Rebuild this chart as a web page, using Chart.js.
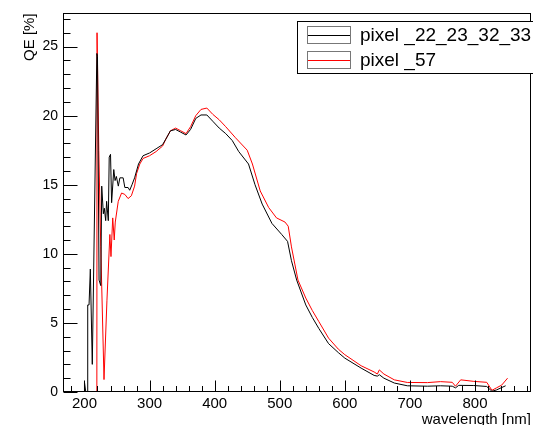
<!DOCTYPE html>
<html>
<head>
<meta charset="utf-8">
<script src="https://cdn.jsdelivr.net/npm/chart.js@4.4.1/dist/chart.umd.min.js"></script>
<style>
  html, body { margin: 0; padding: 0; background: #fff; }
  #wrap { width: 533px; height: 425px; }
</style>
</head>
<body>
<div id="wrap"><canvas id="myChart" width="533" height="425"></canvas></div>
<script>
'use strict';

// pixel _22_23_32_33 (black)
const blackNm = [199.5, 200, 202, 204.5, 205, 207, 209, 212, 219, 220, 222.4, 225, 226.5, 229, 230.5, 232.6, 234, 236.6, 238, 240, 241.7, 245, 247, 249, 252, 254.4, 259.4, 262, 267, 269.5, 273, 277, 283, 290, 300, 310, 320, 325, 332, 340, 348, 356, 363, 371, 379, 388, 397, 407, 417, 427, 437, 452, 462, 473, 488, 503, 512, 518, 526, 540, 550, 560, 575, 590, 600, 625, 645, 650, 653, 660, 676, 696, 727, 747, 765, 770, 775, 798, 818, 826, 833, 840, 847];
const blackQE = [0, 0.7, 0, 0, 6.3, 6.3, 8.9, 2.0, 24.5, 24.3, 8.1, 7.7, 14.9, 12.9, 13.3, 12.4, 13.8, 12.4, 17.0, 17.2, 13.7, 16.1, 15.3, 15.6, 14.9, 15.5, 15.5, 14.8, 14.8, 14.6, 15.0, 15.5, 16.5, 17.1, 17.3, 17.6, 17.9, 18.3, 18.9, 19.0, 18.8, 18.6, 19.0, 19.8, 20.05, 20.05, 19.6, 19.1, 18.7, 18.2, 17.4, 16.5, 15.0, 13.6, 12.2, 11.4, 10.9, 9.5, 8.1, 6.3, 5.4, 4.6, 3.5, 2.85, 2.45, 1.73, 1.2, 1.15, 1.25, 1.0, 0.65, 0.45, 0.42, 0.45, 0.42, 0.3, 0.48, 0.47, 0.4, 0.05, 0.15, 0.3, 0.45];

// pixel _57 (red)
const redNm = [200, 219, 219.3, 222, 225, 230, 234.5, 239, 240.7, 243.4, 245.7, 247.3, 251.9, 257, 262, 267, 272, 277, 280, 285, 290, 300, 310, 320, 325, 332, 340, 348, 356, 363, 371, 379, 388, 397, 407, 417, 432, 450, 458, 470, 483, 495, 508, 513, 518, 528, 540, 550, 560, 575, 590, 600, 625, 645, 650, 653, 660, 676, 696, 727, 747, 765, 770, 778, 798, 818, 826, 833, 841, 850];
const redQE = [0, 0, 26.0, 17.5, 10.5, 0.9, 6.6, 11.4, 9.8, 12.6, 11.0, 12.3, 13.8, 14.4, 14.3, 14.0, 14.2, 14.9, 15.8, 16.5, 16.9, 17.1, 17.4, 17.8, 18.3, 18.9, 19.1, 18.9, 18.7, 19.2, 20.0, 20.45, 20.55, 20.1, 19.7, 19.2, 18.4, 17.5, 16.5, 14.55, 13.35, 12.6, 12.3, 12.0, 10.5, 8.1, 6.8, 5.9, 5.1, 3.9, 3.1, 2.7, 1.9, 1.45, 1.3, 1.6, 1.3, 0.88, 0.69, 0.68, 0.75, 0.7, 0.42, 0.88, 0.77, 0.7, 0.12, 0.3, 0.5, 1.0];

const seriesLabels = ['pixel _22_23_32_33', 'pixel _57'];
const seriesColors = ['#000000', '#ff0000'];

const xTicks = [200, 300, 400, 500, 600, 700, 800];
const yTicks = [0, 5, 10, 15, 20, 25];

const toPoints = (xs, ys) => xs.map((x, i) => ({ x: x, y: ys[i] }));

// ROOT-like frame with ticks pointing inwards
const framePlugin = {
    id: 'frame',
    afterDatasetsDraw(chart) {
        const ctx = chart.ctx;
        const a = chart.chartArea;
        const xs = chart.scales.x;
        const ys = chart.scales.y;
        const L = Math.round(a.left) + 0.5, R = Math.round(a.right) - 0.5;
        const T = Math.round(a.top) + 0.5, B = Math.round(a.bottom) - 0.5;
        ctx.save();
        ctx.strokeStyle = '#000';
        ctx.lineWidth = 1;
        ctx.beginPath();
        for (let v = 180; v <= 880; v += 20) {
            const px = Math.round(xs.getPixelForValue(v)) + 0.5;
            const len = v % 100 === 0 ? 11 : 5.5;
            ctx.moveTo(px, B);
            ctx.lineTo(px, B - len);
        }
        for (let v = 0; v <= 27; v += 1) {
            const py = Math.round(ys.getPixelForValue(v)) + 0.5;
            const len = v % 5 === 0 ? 14 : 7;
            ctx.moveTo(L, py);
            ctx.lineTo(L + len, py);
        }
        ctx.stroke();
        ctx.strokeRect(L, T, R - L, B - T);
        ctx.restore();
    }
};

const legendPlugin = {
    id: 'rootLegend',
    afterDraw(chart) {
        const ctx = chart.ctx;
        ctx.save();
        ctx.fillStyle = '#fff';
        ctx.fillRect(297, 22, 250, 52);
        ctx.strokeStyle = '#000';
        ctx.lineWidth = 1;
        ctx.strokeRect(297.5, 21.5, 250, 52);
        ctx.font = '19px "Liberation Sans", Arial, sans-serif';
        ctx.textBaseline = 'middle';
        chart.data.datasets.forEach((ds, i) => {
            const cy = 35 + i * 25;
            ctx.strokeStyle = '#777';
            ctx.strokeRect(307.5, cy - 8.5, 43, 17);
            ctx.strokeStyle = ds.borderColor;
            ctx.beginPath();
            ctx.moveTo(308, cy + 0.5);
            ctx.lineTo(350, cy + 0.5);
            ctx.stroke();
            ctx.fillStyle = '#000';
            ctx.fillText(ds.label, 360, cy + 1);
        });
        ctx.restore();
    }
};

const ctx = document.getElementById('myChart').getContext('2d');
const myChart = new Chart(ctx, {
    type: 'line',
    data: {
        datasets: [
            {
                label: seriesLabels[0],
                data: toPoints(blackNm, blackQE),
                borderColor: seriesColors[0],
                borderWidth: 1,
                pointRadius: 0,
                tension: 0
            },
            {
                label: seriesLabels[1],
                data: toPoints(redNm, redQE),
                borderColor: seriesColors[1],
                borderWidth: 1,
                pointRadius: 0,
                tension: 0
            }
        ]
    },
    options: {
        responsive: false,
        animation: false,
        devicePixelRatio: 1,
        layout: { padding: { top: 12, right: 2, left: 0, bottom: 0 } },
        plugins: {
            legend: { display: false },
            tooltip: { enabled: false }
        },
        scales: {
            x: {
                type: 'linear',
                min: 167,
                max: 886,
                afterFit(scale) { scale.height = 33; },
                afterBuildTicks(scale) { scale.ticks = xTicks.map(v => ({ value: v })); },
                grid: { display: false, drawTicks: false },
                border: { display: false },
                ticks: {
                    includeBounds: false,
                    autoSkip: false,
                    maxRotation: 0,
                    padding: 3,
                    color: '#000',
                    font: { family: '"Liberation Sans", Arial, sans-serif', size: 15 }
                },
                title: {
                    display: true,
                    text: 'wavelength [nm]',
                    align: 'end',
                    color: '#000',
                    padding: { top: 0, bottom: -4 },
                    font: { family: '"Liberation Sans", Arial, sans-serif', size: 15 }
                }
            },
            y: {
                type: 'linear',
                min: 0,
                max: 27.4,
                afterFit(scale) { scale.width = 63; },
                afterBuildTicks(scale) { scale.ticks = yTicks.map(v => ({ value: v })); },
                grid: { display: false, drawTicks: false },
                border: { display: false },
                ticks: {
                    includeBounds: false,
                    autoSkip: false,
                    padding: 5,
                    color: '#000',
                    font: { family: '"Liberation Sans", Arial, sans-serif', size: 14 }
                },
                title: {
                    display: true,
                    text: 'QE [%]',
                    align: 'end',
                    color: '#000',
                    padding: { top: 21, bottom: 0 },
                    font: { family: '"Liberation Sans", Arial, sans-serif', size: 15 }
                }
            }
        }
    },
    plugins: [framePlugin, legendPlugin]
});
</script>
</body>
</html>
